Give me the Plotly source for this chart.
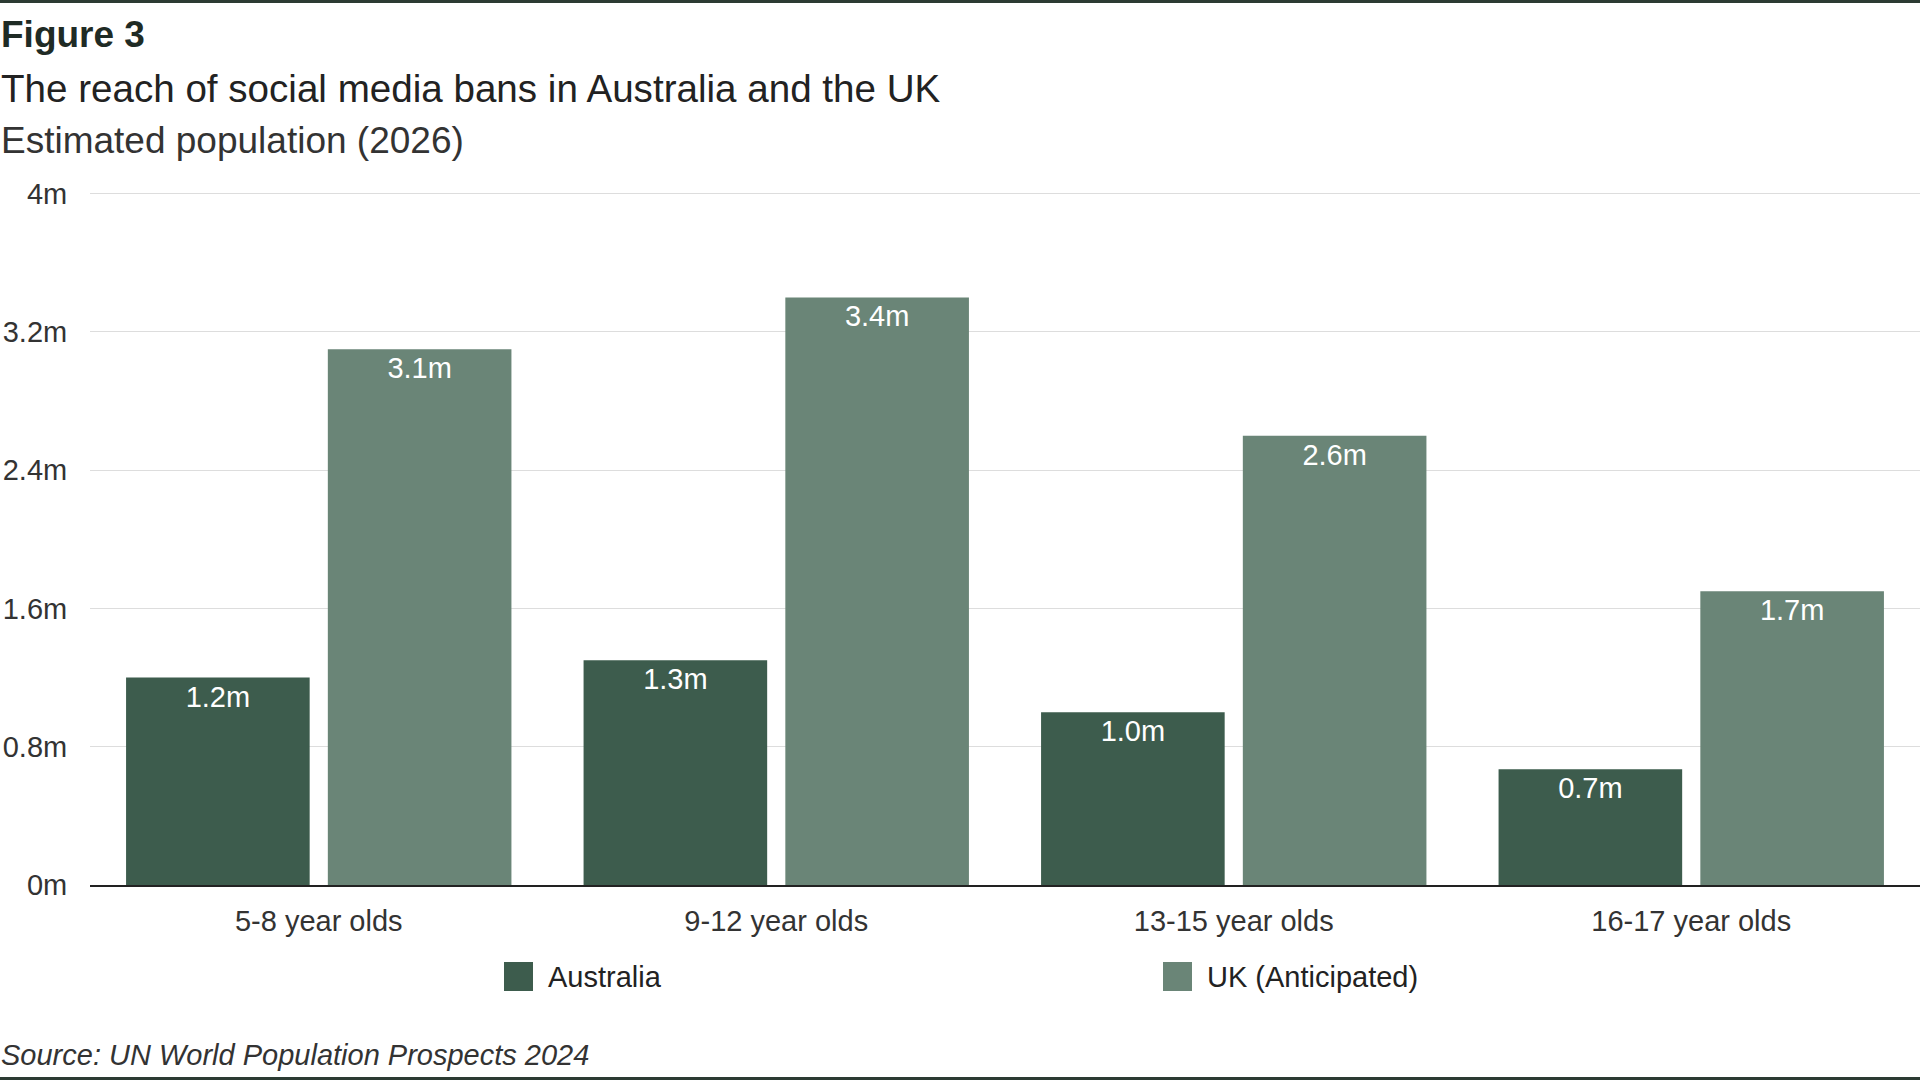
import plotly.graph_objects as go

# data (millions)
age_groups = ["5-8 year olds", "9-12 year olds", "13-15 year olds", "16-17 year olds"]
australia = [1.2, 1.3, 1.0, 0.67]
uk = [3.1, 3.4, 2.6, 1.7]
series_names = ["Australia", "UK (Anticipated)"]
series_colors = ["#3d5c4d", "#6a8577"]
y_ticks = [0, 0.8, 1.6, 2.4, 3.2, 4]
y_tick_labels = ["0m", "0.8m", "1.6m", "2.4m", "3.2m", "4m"]

W, H = 1920, 1080
L, R, T, B = 90, 0, 192, 195
FONT = "Liberation Sans"


def px_x(x):
    return (x - L) / (W - L - R)


def px_y(y):
    return (H - B - y) / (H - T - B)


fig = go.Figure()
for name, vals, col in zip(series_names, [australia, uk], series_colors):
    fig.add_trace(go.Bar(
        x=age_groups, y=vals, name=name,
        marker=dict(color=col, line=dict(width=0)),
        texttemplate="%{y:.1f}m", textposition="inside",
        insidetextanchor="end", textangle=0,
        textfont=dict(color="white", size=29, family=FONT),
        constraintext="none", showlegend=False,
    ))

fig.update_layout(
    width=W, height=H,
    margin=dict(l=L, r=R, t=T, b=B),
    paper_bgcolor="white", plot_bgcolor="white",
    barmode="group", bargap=0.118, bargroupgap=0.09,
    font=dict(family=FONT, size=29, color="#333333"),
    showlegend=False,
    xaxis=dict(
        showgrid=False, showline=True, linecolor="#222222", linewidth=2,
        ticks="outside", ticklen=9, tickcolor="rgba(0,0,0,0)",
        tickfont=dict(size=29, color="#333333"),
    ),
    yaxis=dict(
        range=[0, 4.01], tickvals=y_ticks, ticktext=y_tick_labels,
        showgrid=True, gridcolor="#dddddd", gridwidth=1,
        zeroline=False, showline=False,
        ticks="outside", ticklen=16, tickcolor="rgba(0,0,0,0)",
        tickfont=dict(size=29, color="#333333"),
    ),
)

# heading lines
heads = [
    ("<b>Figure 3</b>", 35, 37, "#1f2b25"),
    ("The reach of social media bans in Australia and the UK", 88, 38.6, "#222222"),
    ("Estimated population (2026)", 141, 37, "#333333"),
]
for txt, y, size, col in heads:
    fig.add_annotation(text=txt, xref="paper", yref="paper",
                       x=px_x(-1), y=px_y(y), xanchor="left", yanchor="middle",
                       showarrow=False, font=dict(size=size, color=col, family=FONT))

fig.add_annotation(text="<i>Source: UN World Population Prospects 2024</i>",
                   xref="paper", yref="paper", x=px_x(-1), y=px_y(1055),
                   xanchor="left", yanchor="middle", showarrow=False,
                   font=dict(size=29, color="#333333", family=FONT))

# legend drawn by hand so the swatches can be large
legend_x = [504, 1163]
for name, col, lx in zip(series_names, series_colors, legend_x):
    fig.add_shape(type="rect", xref="paper", yref="paper",
                  x0=px_x(lx), x1=px_x(lx + 29), y0=px_y(991), y1=px_y(962),
                  fillcolor=col, line=dict(width=0))
    fig.add_annotation(text=name, xref="paper", yref="paper",
                       x=px_x(lx + 42), y=px_y(977), xanchor="left", yanchor="middle",
                       showarrow=False, font=dict(size=29, color="#222222", family=FONT))

# dark rules at top and bottom of the figure
for y0, y1 in [(0, 3), (1077, 1080)]:
    fig.add_shape(type="rect", xref="paper", yref="paper",
                  x0=px_x(0), x1=px_x(W), y0=px_y(y1), y1=px_y(y0),
                  fillcolor="#2c3b33", line=dict(width=0))

fig.write_html("out.html", config={"displayModeBar": False},
               post_script="document.body.style.margin='0';")
